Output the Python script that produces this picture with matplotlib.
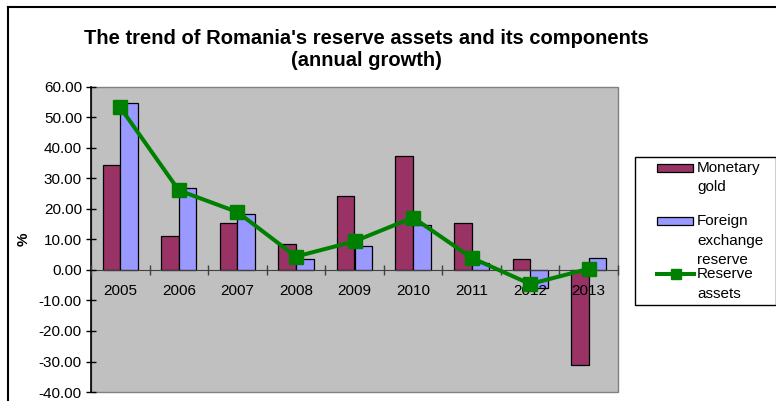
import matplotlib
matplotlib.use("Agg")
import matplotlib.pyplot as plt
import numpy as np
from matplotlib.lines import Line2D
from matplotlib.patches import Rectangle
from matplotlib.ticker import FixedLocator, FormatStrFormatter

plt.rcParams['font.family'] = ['Liberation Sans', 'DejaVu Sans']

# annual growth, %
years = ['2005', '2006', '2007', '2008', '2009', '2010', '2011', '2012', '2013']
monetary_gold = [34.3, 11.1, 15.3, 8.6, 24.4, 37.4, 15.3, 3.5, -31.2]
foreign_exchange = [54.8, 26.8, 18.5, 3.5, 7.9, 14.6, 2.4, -6.0, 3.9]
reserve_assets = [53.3, 26.1, 19.0, 4.4, 9.4, 17.2, 4.0, -4.6, 0.4]

GOLD = '#993366'
FX = '#9999FF'
GREEN = '#008000'

W, H = 776, 401
fig = plt.figure(figsize=(W / 100, H / 100), dpi=100)


def fx(px):
    return px / W


def fy(py):
    return 1 - py / H


ax = fig.add_axes([fx(91), fy(392), 527 / W, 305 / H])
ax.set_facecolor('#C0C0C0')
ax.set_axisbelow(False)

x = np.arange(len(years))
w = 0.3
ax.bar(x - w / 2, monetary_gold, w, color=GOLD, edgecolor='black',
       linewidth=0.9, zorder=2)
ax.bar(x + w / 2, foreign_exchange, w, color=FX, edgecolor='black',
       linewidth=0.9, zorder=2)
ax.plot(x, reserve_assets, color=GREEN, linewidth=2.9, marker='s',
        markersize=9.5, zorder=3)

ax.set_xlim(-0.5, len(years) - 0.5)
ax.set_ylim(-40, 60)
ax.set_yticks(np.arange(-40, 61, 10))
ax.yaxis.set_major_formatter(FormatStrFormatter('%.2f'))
ax.tick_params(axis='y', direction='inout', length=7, width=1, pad=3,
               labelsize=11)

# category axis sits on the zero line
ax.spines['bottom'].set_position(('data', 0))
ax.spines['bottom'].set_color('#404040')
ax.spines['left'].set_color('black')
ax.spines['left'].set_linewidth(1.2)
ax.spines['top'].set_visible(False)
ax.spines['right'].set_visible(False)
ax.add_patch(Rectangle((0, 0), 1, 1, transform=ax.transAxes, fill=False,
                       edgecolor='#808080', linewidth=1, clip_on=False,
                       zorder=1))
ax.set_xticks(x)
ax.set_xticklabels(years)
ax.xaxis.set_minor_locator(FixedLocator(np.arange(-0.5, len(years), 1.0)))
ax.tick_params(axis='x', which='major', length=0, pad=10, labelsize=11)
ax.tick_params(axis='x', which='minor', direction='inout', length=7,
               width=1, color='#404040')

ax.set_ylabel('%', fontsize=11, fontweight='bold', labelpad=6)

fig.text(fx(366), fy(38), "The trend of Romania's reserve assets and its components",
         ha='center', va='center', fontsize=14.5, fontweight='bold')
fig.text(fx(366), fy(61), "(annual growth)",
         ha='center', va='center', fontsize=14.5, fontweight='bold')

# legend box, handles lined up with the first line of each label
fig.add_artist(Rectangle((fx(635), fy(305)), fx(776 - 635), 148 / H,
                         transform=fig.transFigure, facecolor='white',
                         edgecolor='black', linewidth=1))
entries = [
    ('bar', GOLD, ['Monetary', 'gold'], 168),
    ('bar', FX, ['Foreign', 'exchange', 'reserve'], 221),
    ('line', GREEN, ['Reserve', 'assets'], 274),
]
for kind, color, lines, y0 in entries:
    if kind == 'bar':
        fig.add_artist(Rectangle((fx(657), fy(y0 + 4)), fx(36), 8 / H,
                                 transform=fig.transFigure, facecolor=color,
                                 edgecolor='black', linewidth=0.9))
    else:
        fig.add_artist(Line2D([fx(657), fx(694)], [fy(y0), fy(y0)],
                              color=color, linewidth=2.9,
                              transform=fig.transFigure))
        fig.add_artist(Line2D([fx(675.5)], [fy(y0)], color=color, marker='s',
                              markersize=7, transform=fig.transFigure))
    for k, txt in enumerate(lines):
        fig.text(fx(697), fy(y0 + 19.5 * k), txt, ha='left', va='center',
                 fontsize=11)

# outer chart border
fig.add_artist(Line2D([fx(8), fx(8)], [0, fy(7)], color='black',
                      linewidth=1.5, transform=fig.transFigure))
fig.add_artist(Line2D([fx(8), 1], [fy(7), fy(7)], color='black',
                      linewidth=1.5, transform=fig.transFigure))

fig.savefig('out.png', dpi=100)
